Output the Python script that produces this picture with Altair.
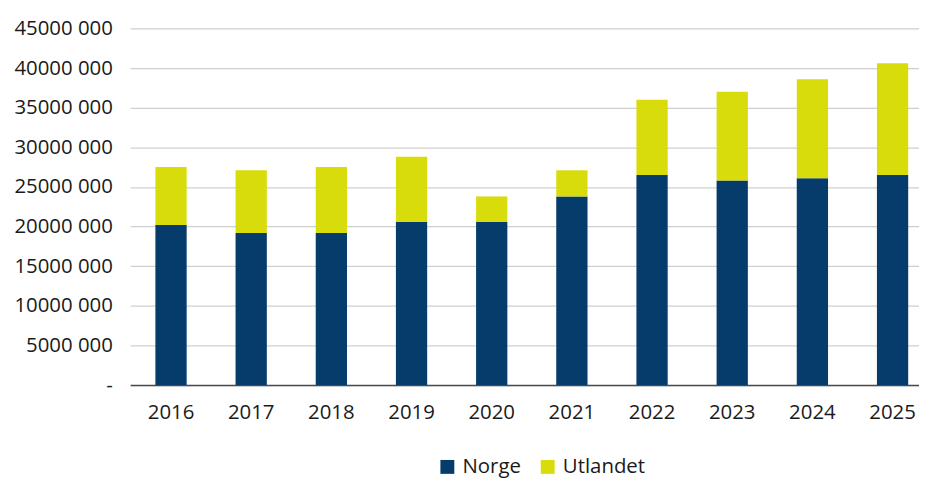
import altair as alt
import pandas as pd

years = ["2016", "2017", "2018", "2019", "2020", "2021", "2022", "2023", "2024", "2025"]
norge = [20200000, 19200000, 19200000, 20600000, 20600000, 23800000, 26500000, 25800000, 26100000, 26500000]
utlandet = [7300000, 7900000, 8300000, 8200000, 3200000, 3300000, 9500000, 11200000, 12500000, 14100000]
series = ["Norge", "Utlandet"]
colors = ["#053c6b", "#d9dc0b"]
y_ticks = [0, 5000000, 10000000, 15000000, 20000000, 25000000, 30000000, 35000000, 40000000, 45000000]

rows = []
for i, y in enumerate(years):
    rows.append({"year": y, "serie": "Norge", "value": norge[i], "ord": 0})
    rows.append({"year": y, "serie": "Utlandet", "value": utlandet[i], "ord": 1})
df = pd.DataFrame(rows)

FONT = "Open Sans"

chart = alt.Chart(df).mark_bar().encode(
    x=alt.X("year:N", title=None,
            scale=alt.Scale(paddingInner=0.61, paddingOuter=0.2245, align=0.70),
            axis=alt.Axis(labelAngle=0, ticks=False, tickSize=0, labelPadding=18,
                          domain=True, domainColor="#4a4a4a", domainWidth=1.5,
                          grid=False, labelFontSize=20.5, labelColor="#1a1a1a",
                          labelFont=FONT)),
    y=alt.Y("value:Q", title=None, stack="zero",
            scale=alt.Scale(domain=[0, 45000000], nice=False),
            axis=alt.Axis(values=y_ticks, domain=False, ticks=False, labelPadding=18,
                          labelExpr="datum.value == 0 ? '-' : floor(datum.value / 1000) + ' 000'",
                          grid=True, gridColor="#cfcfcf", gridWidth=1.2,
                          labelFontSize=20.5, labelColor="#1a1a1a", labelFont=FONT,
                          minExtent=118, maxExtent=118)),
    color=alt.Color("serie:N", title=None,
                    scale=alt.Scale(domain=series, range=colors),
                    legend=alt.Legend(orient="none", legendX=309, legendY=431,
                                      direction="horizontal", symbolType="square",
                                      symbolSize=196, symbolStrokeWidth=0,
                                      labelFontSize=20.5, labelFont=FONT,
                                      labelColor="#1a1a1a", labelOffset=5,
                                      columnPadding=16)),
    order=alt.Order("ord:Q", sort="ascending"),
).properties(
    width=794,
    height=359,
    padding={"left": 5, "top": 9, "right": 0, "bottom": 0},
).configure_view(stroke=None)

chart.save("out.html", embed_options={"renderer": "svg", "actions": False})
